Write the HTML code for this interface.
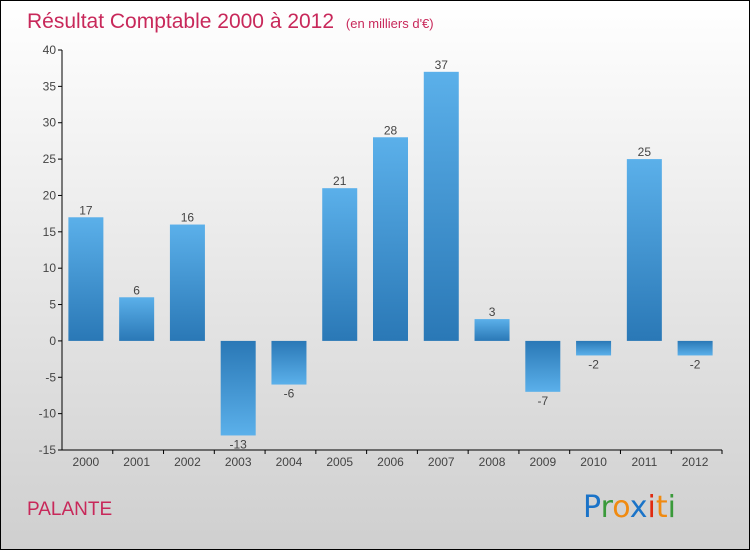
<!DOCTYPE html>
<html><head><meta charset="utf-8"><style>
body{margin:0}
#c{width:748px;height:548px;border:1px solid #000;background:linear-gradient(#ffffff,#cfcfcf);position:relative;overflow:hidden;font-family:"Liberation Sans",sans-serif}
</style></head><body>
<div id="c">
<svg id="s" width="748" height="548">
<defs>
<linearGradient id="gp" x1="0" y1="0" x2="0" y2="1"><stop offset="0" stop-color="#5bb0ea"/><stop offset="1" stop-color="#2a78b6"/></linearGradient>
<linearGradient id="gn" x1="0" y1="0" x2="0" y2="1"><stop offset="0" stop-color="#2a78b6"/><stop offset="1" stop-color="#5bb0ea"/></linearGradient>
</defs>
<text x="26" y="27" font-size="21" fill="#c8285a">Résultat Comptable 2000 à 2012 <tspan font-size="13" dx="6">(en milliers d'€)</tspan></text>
<text x="26" y="514" font-size="19" fill="#c8285a">PALANTE</text>
<g font-size="30" font-family="'DejaVu Sans',sans-serif">
<text x="582" y="516"><tspan fill="#1a73c8">P</tspan><tspan fill="#3a9a3a">r</tspan><tspan fill="#f08a10">o</tspan><tspan fill="#1a73c8">x</tspan><tspan fill="#e02a10">i</tspan><tspan fill="#f08a10">t</tspan><tspan fill="#3a9a3a">i</tspan></text>
</g>
<g id="g"></g>
</svg>
</div>
<script>
const years=["2000","2001","2002","2003","2004","2005","2006","2007","2008","2009","2010","2011","2012"];
const values=[17,6,16,-13,-6,21,28,37,3,-7,-2,25,-2];
const ticks=[40,35,30,25,20,15,10,5,0,-5,-10,-15];
const ns="http://www.w3.org/2000/svg";
const g=document.getElementById('g');
const x0=61,x1=721,yTop=49,yBot=449,vMax=40,vMin=-15;
const y=v=>yTop+(vMax-v)*(yBot-yTop)/(vMax-vMin);
const bw=(x1-x0)/years.length;
function el(t,a,txt){const e=document.createElementNS(ns,t);for(const k in a)e.setAttribute(k,a[k]);if(txt!==undefined)e.textContent=txt;g.appendChild(e);return e;}
let ax=el('line',{x1:x0,y1:yTop,x2:x0,y2:yBot,stroke:'#000'});

let bx=el('line',{x1:x0,y1:yBot,x2:x1,y2:yBot,stroke:'#000'});

ticks.forEach(t=>{
 let l=el('line',{x1:x0-4,y1:y(t),x2:x0,y2:y(t),stroke:'#000'});
 
 let tx=el('text',{x:x0-6,y:y(t)+4,'font-size':12,fill:'#444','text-anchor':'end'},String(t));
 
});
years.forEach((yr,i)=>{
 const cx=x0+bw*(i+0.5)-1.5,v=values[i];
 let tk=el('line',{x1:x0+bw*(i+1),y1:yBot,x2:x0+bw*(i+1),y2:yBot+4,stroke:'#000'});
 
 let lb=el('text',{x:cx,y:yBot+16,'font-size':12,fill:'#444','text-anchor':'middle'},yr);
 
 const top=Math.min(y(v),y(0)),h=Math.abs(y(v)-y(0));
 let r=el('rect',{x:cx-17.5,y:top,width:35,height:h,fill:v>=0?'url(#gp)':'url(#gn)'});
 
 let vl=el('text',{x:cx,y:v>=0?y(v)-3:y(v)+13,'font-size':12,fill:'#444','text-anchor':'middle'},String(v));
 
});
</script>
</body></html>
